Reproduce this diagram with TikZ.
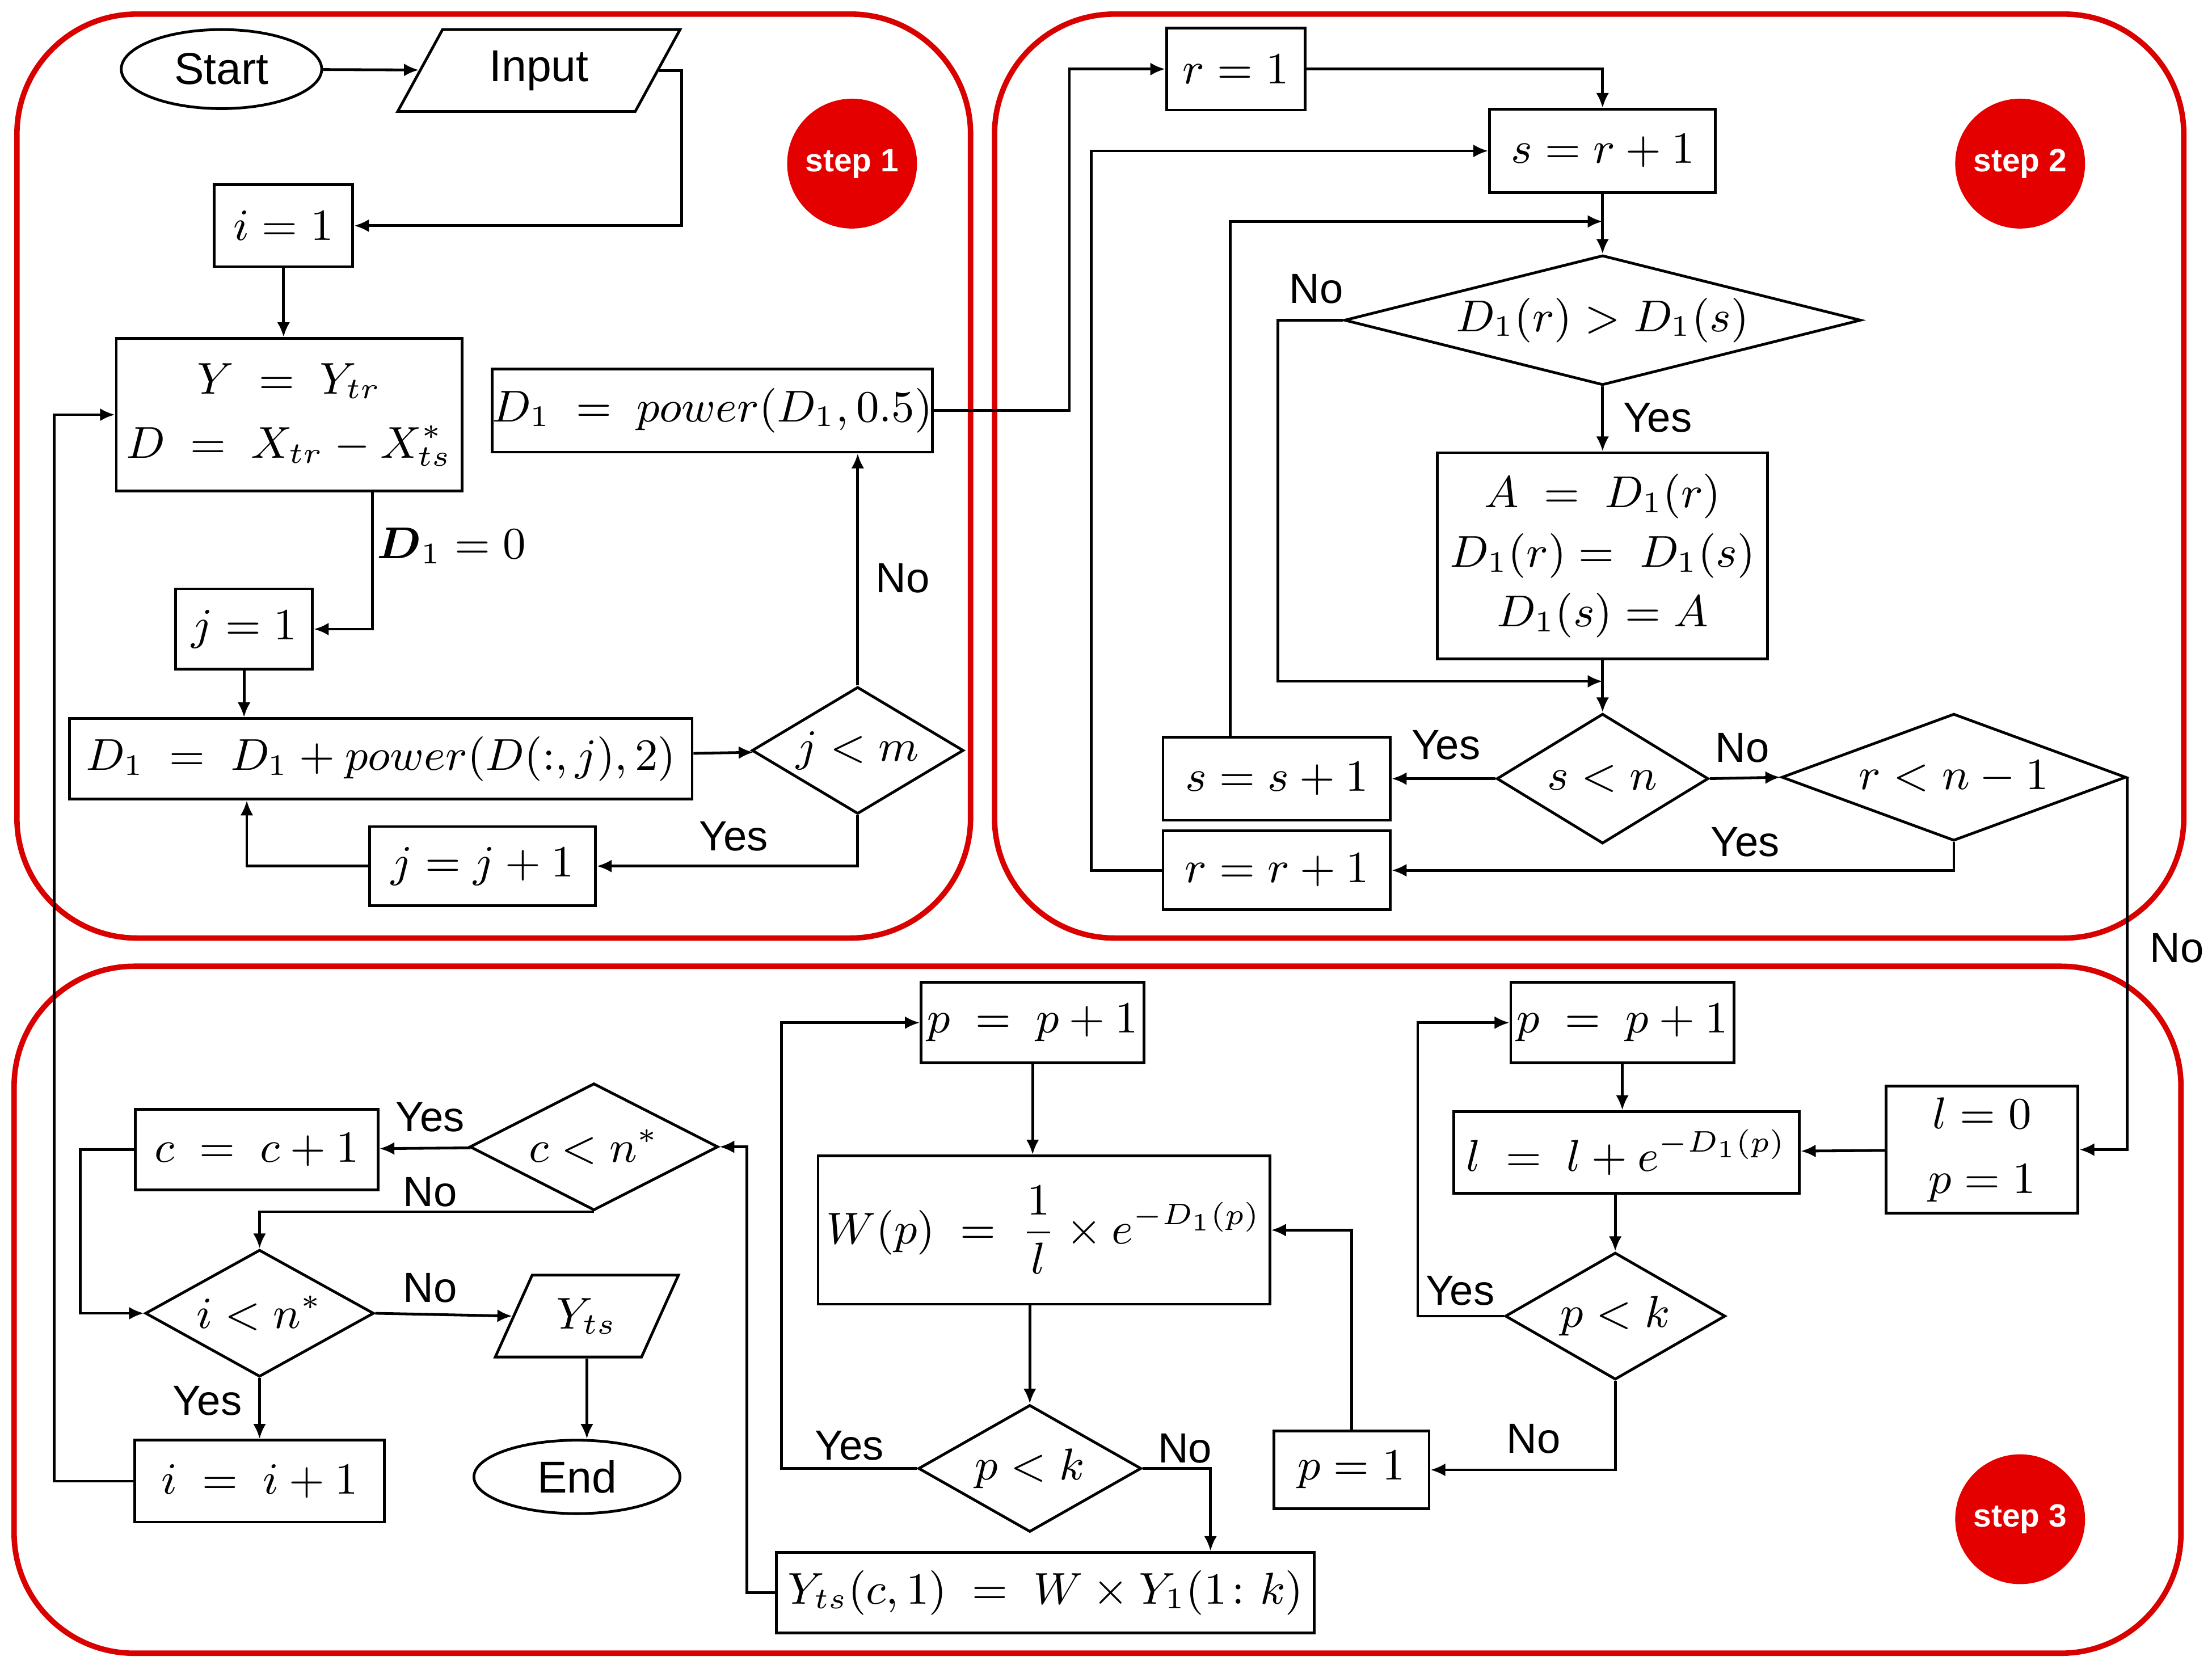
\documentclass[tikz,border=0pt]{standalone}
\usepackage{amsmath}
\usepackage{fontspec}
\setmainfont{Liberation Sans}
\usetikzlibrary{shapes.geometric,arrows.meta}
\begin{document}
\begin{tikzpicture}[x=0.01cm,y=-0.01cm,font=\fontsize{9}{11}\selectfont,
 >={Latex[length=3pt,width=2.6pt]}, line width=0.55pt,
 box/.style={draw,inner sep=0pt,align=center},
 dia/.style={draw,diamond,inner sep=0pt},
 para/.style={draw,trapezium,trapezium left angle=60,trapezium right angle=120,trapezium stretches=true,inner sep=0pt},
 oval/.style={draw,ellipse,inner sep=0pt},
 lab/.style={inner sep=1pt,font=\fontsize{8.5}{10}\selectfont},
 cont/.style={draw=red!85!black,line width=1.1pt,rounded corners=0.85cm},
 stp/.style={circle,fill=red!90!black,text=white,font=\bfseries\fontsize{6.5}{8}\selectfont,minimum size=0.92cm,inner sep=0pt}]
\useasboundingbox (0,0) rectangle (1568,1180);
\draw[cont] (12,10) rectangle (688,665);
\draw[cont] (705,10) rectangle (1548,665);
\draw[cont] (10,685) rectangle (1546,1172);
\node[stp] (s1) at (604,116) {step 1};
\node[stp] (s2) at (1432,116) {step 2};
\node[stp] (s3) at (1432,1077) {step 3};
% step 1
\node[oval,minimum width=1.42cm,minimum height=0.56cm] (start) at (157,49) {Start};
\node[para,minimum width=2.0cm,minimum height=0.58cm] (input) at (382,50) {Input};
\node[box,minimum width=0.98cm,minimum height=0.58cm] (i1) at (201,160) {$i=1$};
\node[box,minimum width=2.45cm,minimum height=1.08cm] (Y) at (205,294) {$Y\ =\ Y_{tr}$\\[2pt]$D\ =\ X_{tr}-X^{*}_{ts}$};
\node[box,minimum width=3.12cm,minimum height=0.59cm] (D1pow) at (505,291) {$D_1\ =\ power(D_1,0.5)$};
\node[box,minimum width=0.97cm,minimum height=0.57cm] (j1) at (173,446) {$j=1$};
\node[box,minimum width=4.41cm,minimum height=0.57cm] (D1sum) at (270,538) {$D_1\ =\ D_1+power(D(:,j),2)$};
\node[dia,minimum width=1.5cm,minimum height=0.9cm,shape aspect=1.67] (jm) at (608,532) {$j<m$};
\node[box,minimum width=1.6cm,minimum height=0.56cm] (jj1) at (342,614) {$j=j+1$};
\draw[->] (start) -- (input);
\draw[->] (input.east) -- ++(16,0) |- (i1.east);
\draw[->] (i1.south) -- (i1.south |- Y.north);
\draw[->] ([xshift=0.59cm]Y.south) |- (j1.east);
\node[lab,font=\fontsize{9}{11}\selectfont] at (320,387) {$\boldsymbol{D}_1=0$};
\draw[->] (j1.south) -- (j1.south |- D1sum.north);
\draw[->] (D1sum) -- (jm);
\draw[->] (jm.north) -- (jm.north |- D1pow.south);
\node[lab] at (640,410) {No};
\draw[->] (jm.south) |- (jj1.east);
\node[lab] at (520,593) {Yes};
\draw[->] (jj1.west) -| ([xshift=-0.95cm]D1sum.south);
% step 2
\node[box,minimum width=0.98cm,minimum height=0.58cm] (r1) at (876,49) {$r=1$};
\node[box,minimum width=1.6cm,minimum height=0.59cm] (sr1) at (1136,107) {$s=r+1$};
\node[dia,minimum width=3.66cm,minimum height=0.92cm,shape aspect=3.9] (d1) at (1136,227) {$D_1(r)>D_1(s)$};
\node[box,minimum width=2.34cm,minimum height=1.46cm] (A) at (1136,394) {$A\ =\ D_1(r)$\\[1pt]$D_1(r)=\ D_1(s)$\\[1pt]$D_1(s)=A$};
\node[dia,minimum width=1.5cm,minimum height=0.92cm,shape aspect=1.63] (sn) at (1136,552) {$s<n$};
\node[dia,minimum width=2.44cm,minimum height=0.9cm,shape aspect=2.7] (rn) at (1385,551) {$r<n-1$};
\node[box,minimum width=1.61cm,minimum height=0.59cm] (ss1) at (905,552) {$s=s+1$};
\node[box,minimum width=1.61cm,minimum height=0.56cm] (rr1) at (905,617) {$r=r+1$};
\coordinate (m1) at (1136,157);
\coordinate (m2) at (1136,483);
\draw[->] (D1pow.east) -- ++(96,0) |- (r1.west);
\draw[->] (r1.east) -| (sr1.north);
\draw[->] (sr1.south) -- (d1.north);
\draw[->] ([xshift=-0.33cm]ss1.north) |- (m1);
\draw[->] (d1.south) -- (A.north);
\node[lab] at (1175,296) {Yes};
\draw[->] (d1.west) -- ++(-46,0) |- (m2);
\node[lab] at (933,205) {No};
\draw[->] (A.south) -- (sn.north);
\draw[->] (sn.west) -- (ss1.east);
\node[lab] at (1025,528) {Yes};
\draw[->] (sn.east) -- (rn.west);
\node[lab] at (1235,530) {No};
\draw[->] (rn.south) |- (rr1.east);
\node[lab] at (1237,597) {Yes};
\draw[->] (rr1.west) -- ++(-50,0) |- (sr1.west);
% step 3
\node[box,minimum width=1.36cm,minimum height=0.9cm] (l0) at (1405,815) {$l=0$\\[2pt]$p=1$};
\node[box,minimum width=2.45cm,minimum height=0.58cm] (lsum) at (1153,817) {$l\ =\ l+e^{-D_1(p)}$};
\node[box,minimum width=1.58cm,minimum height=0.57cm] (pp1R) at (1150,725) {$p\ =\ p+1$};
\node[dia,minimum width=1.56cm,minimum height=0.9cm,shape aspect=1.73] (pkR) at (1145,933) {$p<k$};
\node[box,minimum width=1.1cm,minimum height=0.55cm] (p1) at (958,1042) {$p=1$};
\node[box,minimum width=3.2cm,minimum height=1.05cm] (W) at (740,872) {$W(p)\ =\ \dfrac{1}{l}\times e^{-D_1(p)}$};
\node[box,minimum width=1.58cm,minimum height=0.57cm] (pp1L) at (732,725) {$p\ =\ p+1$};
\node[dia,minimum width=1.58cm,minimum height=0.9cm,shape aspect=1.75] (pkL) at (730,1041) {$p<k$};
\node[box,minimum width=3.81cm,minimum height=0.57cm] (Yts) at (741,1129) {$Y_{ts}(c,1)\ =\ W\times Y_1(1\colon k)$};
\node[dia,minimum width=1.76cm,minimum height=0.9cm,shape aspect=1.95] (cn) at (421,813) {$c<n^{*}$};
\node[box,minimum width=1.72cm,minimum height=0.57cm] (cc1) at (182,815) {$c\ =\ c+1$};
\node[dia,minimum width=1.62cm,minimum height=0.9cm,shape aspect=1.8] (in) at (184,931) {$i<n^{*}$};
\node[para,minimum width=1.3cm,minimum height=0.58cm] (ytsp) at (416,933) {$Y_{ts}$};
\node[oval,minimum width=1.46cm,minimum height=0.52cm] (end) at (409,1047) {End};
\node[box,minimum width=1.77cm,minimum height=0.58cm] (ii1) at (184,1050) {$i\ =\ i+1$};
\draw[->] (rn.east) |- (l0.east);
\node[lab] at (1543,672) {No};
\draw[->] (l0) -- (lsum);
\draw[->] (pp1R.south) -- (pp1R.south |- lsum.north);
\draw[->] (pkR.north |- lsum.south) -- (pkR.north);
\draw[->] (pkR.west) -- ++(-61,0) |- (pp1R.west);
\node[lab] at (1035,915) {Yes};
\draw[->] (pkR.south) |- (p1.east);
\node[lab] at (1087,1020) {No};
\draw[->] (p1.north) |- (W.east);
\draw[->] (pp1L.south) -- (pp1L.south |- W.north);
\draw[->] (pkL.north |- W.south) -- (pkL.north);
\draw[->] (pkL.west) -- ++(-96,0) |- (pp1L.west);
\node[lab] at (602,1025) {Yes};
\draw[->] (pkL.east) -| ([xshift=1.17cm]Yts.north);
\node[lab] at (840,1027) {No};
\draw[->] (Yts.west) -- ++(-20,0) |- (cn.east);
\draw[->] (cn) -- (cc1);
\node[lab] at (305,792) {Yes};
\draw[->] (cn.south) -| (in.north);
\node[lab] at (305,845) {No};
\draw[->] (cc1.west) -- ++(-38,0) |- (in.west);
\draw[->] (in.east) -- (ytsp.west);
\node[lab] at (305,913) {No};
\draw[->] (in.south) -- (ii1.north);
\node[lab] at (147,993) {Yes};
\draw[->] (end.north -| ytsp.south) ++(0,-0) (ytsp.south) -- (ytsp.south |- end.north);
\draw[->] (ii1.west) -- ++(-56,0) |- (Y.west);
\end{tikzpicture}
\end{document}
